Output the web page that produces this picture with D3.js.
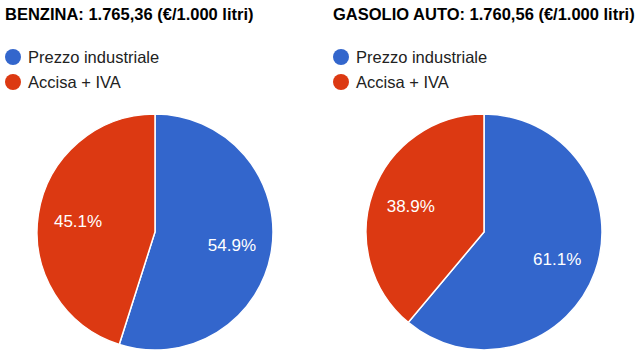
<!DOCTYPE html>
<html><head><meta charset="utf-8">
<script src="https://cdn.jsdelivr.net/npm/d3@7"></script>
<style>body{margin:0;background:#fff}svg{display:block}text{font-family:"Liberation Sans",Arial,sans-serif}</style>
</head><body>
<svg id="c" width="640" height="360"></svg>
<script>
const categories = ["Prezzo industriale", "Accisa + IVA"];
const colors = ["#3366cc", "#dc3912"];
const titles = ["BENZINA: 1.765,36 (€/1.000 litri)", "GASOLIO AUTO: 1.760,56 (€/1.000 litri)"];
const benzinaValues = [54.9, 45.1];
const gasolioValues = [61.1, 38.9];

const svg = d3.select("#c");
const panels = [
  {title: titles[0], values: benzinaValues, x0: 5, cx: 155},
  {title: titles[1], values: gasolioValues, x0: 333, cx: 484}
];
const cy = 232, r = 118;
const pie = d3.pie().sort(null).value(d => d);
const arc = d3.arc().innerRadius(0).outerRadius(r);
const labelArc = d3.arc().innerRadius(r * 0.66).outerRadius(r * 0.66);
const color = d3.scaleOrdinal().domain(categories).range(colors);

panels.forEach(p => {
  const g = svg.append("g");
  g.append("text").attr("x", p.x0).attr("y", 20)
    .attr("font-size", 16.5).attr("font-weight", "bold").attr("fill", "#000")
    .text(p.title);
  const lg = g.selectAll(".lg").data(categories).enter().append("g")
    .attr("transform", (d, i) => `translate(${p.x0}, ${57 + i * 25})`);
  lg.append("circle").attr("cx", 8).attr("cy", 0).attr("r", 8).attr("fill", d => color(d));
  lg.append("text").attr("x", 23).attr("y", 6).attr("font-size", 16.5).attr("fill", "#222").text(d => d);

  const pg = g.append("g").attr("transform", `translate(${p.cx},${cy})`);
  const arcs = pie(p.values);
  pg.selectAll("path").data(arcs).enter().append("path")
    .attr("d", arc).attr("fill", (d, i) => color(categories[i]))
    .attr("stroke", "#fff").attr("stroke-width", 1.5);
  pg.selectAll("text").data(arcs).enter().append("text")
    .attr("transform", d => `translate(${labelArc.centroid(d)})`)
    .attr("text-anchor", "middle").attr("dy", "0.4em")
    .attr("font-size", 17).attr("fill", "#fff")
    .text(d => d3.format(".1f")(d.value) + "%");
});
</script>
</body></html>
